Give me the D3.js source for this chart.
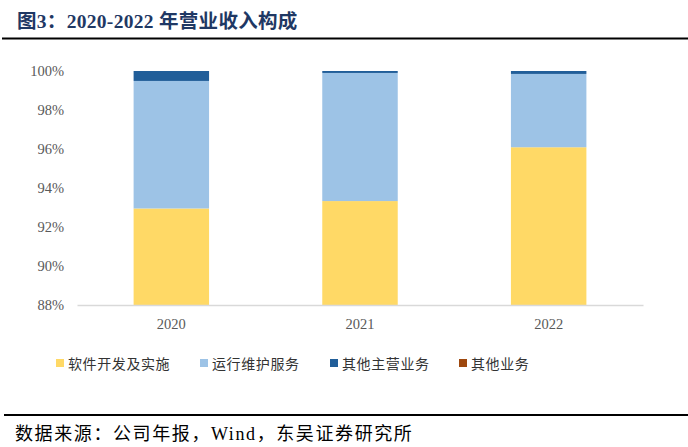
<!DOCTYPE html>
<html><head><meta charset="utf-8">
<script src="https://cdn.jsdelivr.net/npm/d3@7"></script>
<style>body{margin:0;background:#fff;}svg{display:block;}</style>
</head><body><svg id="c" width="688" height="447"></svg>
<script>
const categories = ["2020", "2021", "2022"];
const seriesNames = ["软件开发及实施", "运行维护服务", "其他主营业务", "其他业务"];
const software = [92.95, 93.33, 96.09];
const maintenance = [6.54, 6.57, 3.76];
const otherMain = [0.51, 0.10, 0.15];
const otherBiz = [0.0, 0.0, 0.0];
const yTicks = [88, 90, 92, 94, 96, 98, 100];
const colors = ["#FFD966", "#9DC3E6", "#215E99", "#9E480E"];

const svg = d3.select("#c");
const serif = "'Liberation Serif','Times New Roman','Noto Sans CJK SC',serif";
const cjk = "'Liberation Serif','Noto Sans CJK SC',sans-serif";

// title
svg.append("text").attr("x", 17).attr("y", 28).attr("font-family", cjk)
  .attr("font-weight", "bold").attr("font-size", 19.5).attr("letter-spacing", 0.3).attr("fill", "#1F3864")
  .text("图3：2020-2022 年营业收入构成");
svg.append("line").attr("x1", 2).attr("x2", 688).attr("y1", 38.5).attr("y2", 38.5)
  .attr("stroke", "#000").attr("stroke-width", 2);

const x = d3.scaleBand().domain(categories).range([77, 643]).paddingInner(0.6).paddingOuter(0.3);
const y = d3.scaleLinear().domain([88, 100]).range([305, 71]);

const rows = categories.map((c, i) => ({cat: c, s0: software[i], s1: maintenance[i], s2: otherMain[i], s3: otherBiz[i]}));
const stack = d3.stack().keys(["s0", "s1", "s2", "s3"])(rows);

const g = svg.append("g");
stack.forEach((layer, k) => {
  g.selectAll(null).data(layer).enter().append("rect")
    .attr("x", d => x(d.data.cat))
    .attr("width", x.bandwidth())
    .attr("y", d => y(Math.min(100, d[1])))
    .attr("height", d => Math.max(0, y(Math.max(88, d[0])) - y(Math.min(100, d[1]))))
    .attr("fill", colors[k]);
});

// y axis labels
const ya = svg.append("g").attr("transform", "translate(64,0)")
  .call(d3.axisLeft(y).tickValues(yTicks).tickFormat(d => d + "%").tickSize(0).tickPadding(0));
ya.select(".domain").remove();
ya.selectAll("text").attr("font-family", serif).attr("font-size", 14.5).attr("fill", "#595959");

// x axis
const xa = svg.append("g").attr("transform", "translate(0,305)")
  .call(d3.axisBottom(x).tickSize(0).tickPadding(14));
xa.select(".domain").attr("stroke", "#D9D9D9").attr("stroke-width", 1.5);
xa.selectAll("text").attr("font-family", serif).attr("font-size", 14.5).attr("fill", "#595959");

// legend
const legX = [56, 200, 330, 459];
const leg = svg.append("g");
seriesNames.forEach((n, i) => {
  leg.append("rect").attr("x", legX[i]).attr("y", 359).attr("width", 8).attr("height", 8).attr("fill", colors[i]);
  leg.append("text").attr("x", legX[i] + 12).attr("y", 369).attr("font-family", "'Noto Sans CJK SC',sans-serif")
    .attr("font-size", 14).attr("letter-spacing", 0.6).attr("fill", "#333333").text(n);
});

// source
svg.append("line").attr("x1", 4).attr("x2", 688).attr("y1", 415).attr("y2", 415)
  .attr("stroke", "#000").attr("stroke-width", 2);
svg.append("text").attr("x", 15).attr("y", 440).attr("font-family", cjk)
  .attr("font-size", 18).attr("letter-spacing", 1.6).attr("fill", "#000").text("数据来源：公司年报，Wind，东吴证券研究所");
</script></body></html>
